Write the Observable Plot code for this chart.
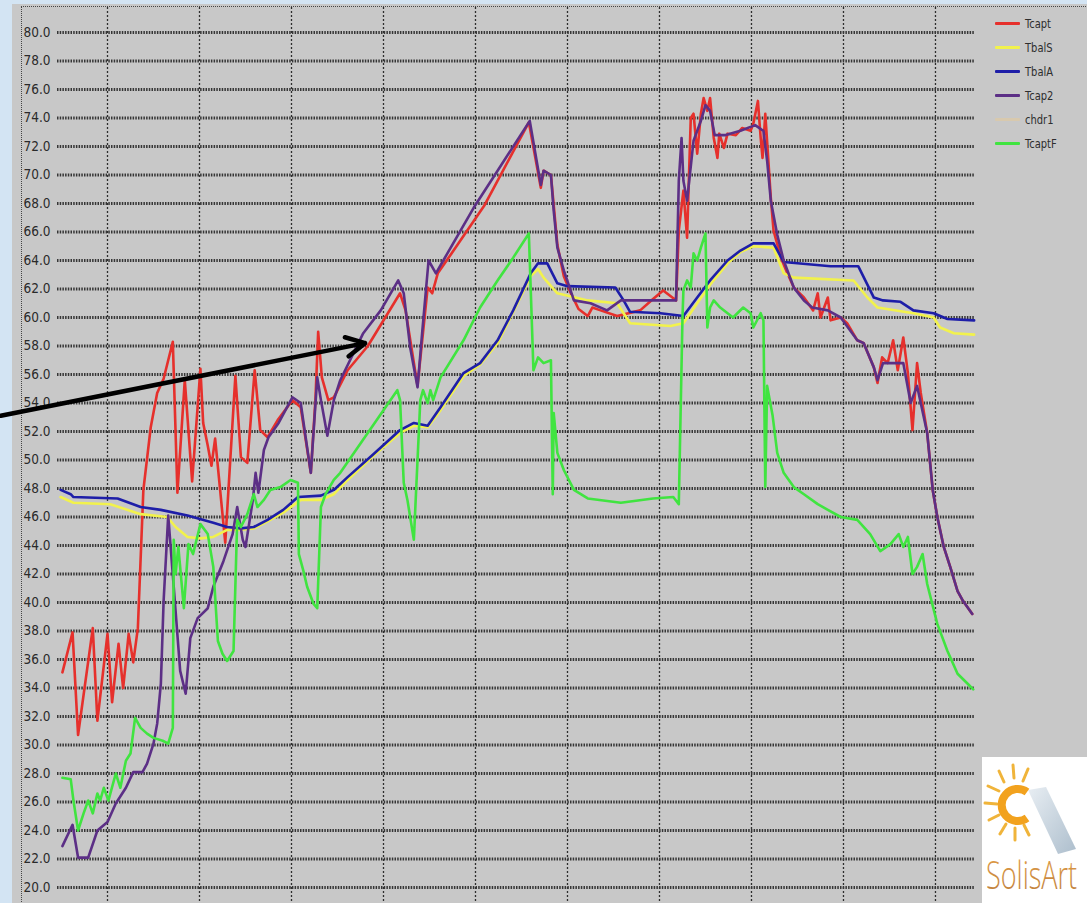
<!DOCTYPE html>
<html>
<head>
<meta charset="utf-8">
<script src="https://cdn.jsdelivr.net/npm/d3@7"></script>
<script src="https://cdn.jsdelivr.net/npm/@observablehq/plot@0.6"></script>
<style>
  html, body { margin: 0; padding: 0; width: 1087px; height: 903px; overflow: hidden; background: #d3e4f3; }
  #panel { position: absolute; left: 12px; top: 4px; width: 1075px; height: 899px; background: #c8c8c8; }
  #frame { position: absolute; left: 21px; top: 6px; width: 1066px; height: 897px;
           border-left: 1.5px dotted #444; border-top: 1.5px dotted #444; }
  #chart { position: absolute; left: 22px; top: 7px; }
  #legend { position: absolute; left: 995px; top: 11px; font-family: "Liberation Sans Narrow", "DejaVu Sans Condensed", Arial, sans-serif;
            font-size: 13px; color: #2e2e2e; }
  #legend .row { height: 24px; display: flex; align-items: center; }
  #legend .sw { width: 25px; height: 3px; margin-right: 5px; border-radius: 1px; }
  #legend span { display: inline-block; transform: scaleX(0.85); transform-origin: left center; }
  #logo { position: absolute; left: 982px; top: 757px; width: 105px; height: 146px; background: #fff; }
</style>
</head>
<body>
<div id="panel"></div>
<div id="frame"></div>
<div id="chart"></div>
<div id="legend"></div>
<div id="logo">
  <svg width="105" height="146" viewBox="0 0 105 146">
    <defs>
      <linearGradient id="pv" x1="0" y1="0" x2="1" y2="1">
        <stop offset="0" stop-color="#e4ebf1"/>
        <stop offset="1" stop-color="#9fb3c4"/>
      </linearGradient>
      <linearGradient id="tx" x1="0" y1="0" x2="0" y2="1">
        <stop offset="0" stop-color="#e6a24a"/>
        <stop offset="1" stop-color="#b97a3a"/>
      </linearGradient>
    </defs>
    <polygon points="46,33 64,30 94,92 76,97" fill="url(#pv)" opacity="0.85"/>
    <g stroke="#f0b43a" stroke-width="3" stroke-linecap="round">
      <line x1="31" y1="8" x2="32" y2="21"/>
      <line x1="17" y1="14" x2="22" y2="25"/>
      <line x1="46" y1="12" x2="41" y2="24"/>
      <line x1="6" y1="29" x2="17" y2="34"/>
      <line x1="3" y1="46" x2="15" y2="47"/>
      <line x1="7" y1="63" x2="17" y2="58"/>
      <line x1="18" y1="77" x2="24" y2="67"/>
      <line x1="33" y1="83" x2="33" y2="71"/>
      <line x1="47" y1="78" x2="42" y2="68"/>
    </g>
    <path d="M45,35 A16,16 0 1 0 45,61" fill="none" stroke="#f2a21e" stroke-width="8"/>
    <text x="4" y="94" transform="scale(1,1.4)"
          font-family="'Open Sans', Lato, sans-serif" font-weight="300" font-size="27" fill="url(#tx)">SolisArt</text>
  </svg>
</div>
<script>
// ---- data (x: hour-grid units, vertical grid lines at 1..10; y: temperature °C) ----
const seriesNames = ["Tcapt", "TbalS", "TbalA", "Tcap2", "chdr1", "TcaptF"];
const seriesColors = ["#e6302c", "#f2f24c", "#1e1ea8", "#5c2f86", "#d8c9ae", "#40e440"];
const yTicks = [20,22,24,26,28,30,32,34,36,38,40,42,44,46,48,50,52,54,56,58,60,62,64,66,68,70,72,74,76,78,80];
const xGrid = [1,2,3,4,5,6,7,8,9,10];

const tcapt = [[0.51,35.1],[0.62,37.9],[0.68,30.7],[0.84,38.2],[0.89,31.7],[1.00,37.8],[1.05,33.0],[1.12,37.1],[1.17,34.0],[1.23,37.8],[1.28,35.8],[1.33,38.2],[1.39,47.9],[1.47,52.3],[1.54,54.7],[1.61,55.7],[1.71,58.3],[1.76,47.7],[1.84,55.6],[1.92,48.5],[2.01,56.4],[2.04,52.6],[2.09,51.0],[2.13,49.6],[2.17,51.5],[2.28,44.2],[2.39,55.9],[2.45,50.2],[2.52,49.8],[2.60,56.3],[2.66,52.1],[2.74,51.6],[2.85,52.8],[3.01,54.2],[3.10,53.7],[3.21,49.1],[3.26,54.2],[3.29,59.0],[3.33,55.8],[3.40,54.2],[3.46,54.4],[3.61,56.3],[3.83,58.0],[4.18,61.7],[4.24,60.5],[4.37,55.2],[4.48,62.1],[4.53,61.7],[4.59,63.1],[4.73,64.4],[5.10,67.9],[5.58,73.7],[5.71,69.1],[5.74,70.3],[5.82,70.0],[5.85,67.9],[5.89,65.1],[5.96,62.9],[6.03,61.8],[6.12,60.6],[6.22,60.1],[6.27,60.7],[6.36,60.5],[6.54,60.1],[6.79,60.5],[6.93,61.3],[7.04,61.9],[7.14,61.4],[7.18,61.2],[7.21,66.1],[7.26,68.9],[7.30,65.6],[7.34,74.0],[7.37,74.3],[7.41,71.5],[7.45,74.3],[7.48,75.4],[7.52,74.5],[7.55,75.4],[7.59,72.6],[7.63,71.2],[7.65,72.9],[7.70,71.9],[7.74,72.9],[7.83,72.8],[7.90,73.3],[7.99,73.1],[8.02,73.6],[8.07,75.2],[8.10,72.6],[8.12,71.2],[8.15,74.3],[8.21,68.4],[8.24,66.1],[8.32,64.2],[8.39,63.1],[8.46,62.1],[8.57,61.4],[8.67,60.5],[8.72,61.7],[8.75,60.0],[8.83,61.4],[8.86,59.8],[8.97,60.0],[9.04,59.6],[9.15,58.4],[9.22,58.2],[9.33,56.5],[9.37,55.4],[9.42,57.2],[9.48,56.8],[9.54,58.4],[9.59,56.3],[9.65,58.6],[9.70,56.1],[9.75,52.1],[9.80,56.8],[9.84,54.7],[9.91,51.9],[9.97,47.9],[10.02,46.0],[10.09,43.9],[10.16,42.5],[10.24,40.8],[10.30,40.1],[10.40,39.2]];

const tbalS = [[0.49,47.4],[0.63,47.0],[1.03,46.9],[1.36,46.2],[1.65,46.0],[1.74,45.3],[1.87,44.6],[2.01,44.5],[2.15,44.6],[2.30,45.1],[2.45,45.1],[2.59,45.2],[2.74,45.7],[2.91,46.3],[3.10,47.2],[3.32,47.2],[3.46,47.6],[3.61,48.6],[3.89,50.3],[4.18,51.9],[4.33,52.4],[4.48,52.3],[4.62,53.5],[4.87,55.9],[5.05,56.7],[5.24,58.2],[5.41,60.4],[5.60,62.9],[5.68,63.4],[5.74,62.8],[5.89,61.7],[6.22,61.2],[6.54,61.0],[6.61,60.3],[6.68,59.6],[7.12,59.4],[7.26,59.6],[7.41,61.0],[7.55,62.3],[7.74,63.8],[7.88,64.6],[8.02,65.0],[8.24,64.9],[8.35,63.1],[8.46,62.8],[9.11,62.6],[9.26,61.4],[9.37,60.7],[9.76,60.3],[9.98,60.0],[10.05,59.3],[10.20,58.9],[10.42,58.8]];

const tbalA = [[0.49,47.9],[0.60,47.6],[0.63,47.4],[1.11,47.3],[1.36,46.7],[1.58,46.5],[1.87,46.1],[2.15,45.6],[2.30,45.3],[2.45,45.2],[2.59,45.3],[2.74,45.8],[2.91,46.5],[3.07,47.4],[3.32,47.5],[3.46,47.9],[3.61,48.8],[3.89,50.4],[4.18,52.1],[4.33,52.6],[4.48,52.4],[4.62,53.7],[4.87,56.1],[5.05,56.8],[5.24,58.4],[5.41,60.5],[5.60,63.1],[5.68,63.8],[5.78,63.8],[5.89,62.4],[6.00,62.2],[6.52,62.1],[6.61,61.2],[6.68,60.4],[7.01,60.3],[7.26,60.1],[7.41,61.4],[7.55,62.6],[7.74,64.0],[7.88,64.7],[8.02,65.2],[8.24,65.2],[8.35,63.9],[8.86,63.6],[9.16,63.6],[9.33,61.4],[9.43,61.2],[9.62,61.1],[9.76,60.5],[9.98,60.3],[10.13,59.9],[10.42,59.8]];

const tcap2 = [[0.51,22.9],[0.62,24.4],[0.68,22.1],[0.79,22.1],[0.89,24.0],[1.00,24.6],[1.09,25.9],[1.20,27.0],[1.28,28.1],[1.38,28.1],[1.43,28.7],[1.50,30.1],[1.54,31.5],[1.58,34.3],[1.61,40.1],[1.66,46.1],[1.72,41.1],[1.79,35.2],[1.85,33.6],[1.90,37.5],[1.98,38.9],[2.09,39.6],[2.15,41.1],[2.26,42.9],[2.36,44.8],[2.41,46.7],[2.47,44.4],[2.50,43.9],[2.58,47.2],[2.61,49.1],[2.64,47.7],[2.70,50.7],[2.75,51.6],[2.86,52.6],[3.01,54.4],[3.10,54.0],[3.21,49.1],[3.28,55.8],[3.32,54.2],[3.39,51.7],[3.46,54.2],[3.53,55.6],[3.78,58.9],[3.97,60.5],[4.16,62.6],[4.22,61.7],[4.29,57.9],[4.37,55.1],[4.42,58.9],[4.49,64.0],[4.57,63.1],[4.65,64.0],[4.98,67.7],[5.24,70.3],[5.59,73.8],[5.71,69.3],[5.74,70.3],[5.82,70.0],[5.85,67.5],[5.89,64.9],[5.96,63.3],[6.07,61.2],[6.25,61.0],[6.43,60.5],[6.58,61.2],[7.15,61.2],[7.18,61.2],[7.21,69.6],[7.24,72.6],[7.26,69.6],[7.30,68.2],[7.37,72.4],[7.45,73.8],[7.50,74.9],[7.55,74.5],[7.60,72.8],[7.72,72.8],[7.88,73.1],[8.04,73.5],[8.13,73.1],[8.17,71.0],[8.21,68.2],[8.28,65.8],[8.35,64.0],[8.46,62.1],[8.57,61.2],[8.66,60.7],[8.83,60.5],[8.97,60.0],[9.15,58.4],[9.22,58.2],[9.33,56.5],[9.37,55.6],[9.43,56.8],[9.65,56.8],[9.73,54.0],[9.80,55.2],[9.91,51.9],[9.97,47.9],[10.02,46.0],[10.09,43.9],[10.16,42.5],[10.24,40.8],[10.30,40.1],[10.40,39.2]];

const tcaptF = [[0.51,27.7],[0.60,27.6],[0.63,26.1],[0.68,24.0],[0.74,25.2],[0.79,26.1],[0.84,25.2],[0.89,26.6],[0.92,26.1],[0.96,27.0],[1.01,26.1],[1.09,28.0],[1.14,27.0],[1.20,28.9],[1.25,29.4],[1.30,31.9],[1.36,31.2],[1.43,30.8],[1.50,30.5],[1.60,30.3],[1.66,30.1],[1.71,31.2],[1.72,44.4],[1.74,42.0],[1.77,43.9],[1.83,39.6],[1.88,44.1],[1.93,43.4],[2.01,45.5],[2.09,44.8],[2.15,42.5],[2.20,37.3],[2.25,36.4],[2.30,35.9],[2.37,36.6],[2.41,45.8],[2.45,45.3],[2.52,46.2],[2.59,47.6],[2.63,46.7],[2.70,47.2],[2.77,47.9],[2.88,48.1],[2.99,48.6],[3.07,48.4],[3.08,43.4],[3.13,42.2],[3.17,41.1],[3.24,39.9],[3.28,39.6],[3.32,46.7],[3.37,47.6],[3.46,48.6],[3.53,49.1],[4.15,54.9],[4.18,54.2],[4.22,48.4],[4.26,47.2],[4.33,44.4],[4.40,54.2],[4.43,54.9],[4.48,54.0],[4.51,54.9],[4.54,54.2],[4.62,55.8],[4.87,58.4],[5.05,60.7],[5.24,62.6],[5.41,64.2],[5.58,65.9],[5.62,58.2],[5.63,56.3],[5.68,57.2],[5.74,56.8],[5.82,57.0],[5.84,47.6],[5.85,53.3],[5.89,50.5],[5.96,49.3],[6.07,47.9],[6.22,47.3],[6.58,47.0],[6.93,47.3],[7.15,47.4],[7.21,46.9],[7.25,60.0],[7.26,61.9],[7.30,62.6],[7.34,62.1],[7.37,64.5],[7.41,64.0],[7.45,64.9],[7.50,65.9],[7.52,59.3],[7.55,60.7],[7.59,61.2],[7.66,60.7],[7.74,60.3],[7.80,60.0],[7.91,60.7],[7.99,60.3],[8.02,59.3],[8.10,60.3],[8.13,59.8],[8.15,48.1],[8.17,55.2],[8.23,53.1],[8.28,50.5],[8.35,49.1],[8.46,48.1],[8.57,47.6],[8.72,46.9],[8.83,46.5],[8.97,46.0],[9.15,45.8],[9.29,44.8],[9.40,43.6],[9.51,44.1],[9.60,44.8],[9.65,43.9],[9.70,44.6],[9.75,42.0],[9.80,42.5],[9.86,43.4],[9.91,41.3],[10.02,38.5],[10.13,36.6],[10.24,35.0],[10.35,34.3],[10.41,33.9]];

// annotation arrow (start / end in chart units)
const arrowFrom = [-0.16, 53.1];
const arrowTo = [3.80, 58.2];

// ---- build ----
const seriesData = {Tcapt: tcapt, TbalS: tbalS, TbalA: tbalA, Tcap2: tcap2, TcaptF: tcaptF};
const drawOrder = ["Tcapt", "TbalS", "TbalA", "Tcap2", "TcaptF"];
const rows = drawOrder.flatMap(name => seriesData[name].map(([t, v]) => ({series: name, t, v})));

const font = "'Liberation Sans Narrow', 'DejaVu Sans Condensed', Arial, sans-serif";

const chart = Plot.plot({
  width: 1065,
  height: 896,
  marginLeft: 35,
  marginRight: 112,
  marginTop: 25,
  marginBottom: 16,
  x: {domain: [0.4565, 10.435], axis: null},
  y: {domain: [20, 80], axis: null},
  color: {domain: seriesNames, range: seriesColors},
  style: {background: "transparent", overflow: "visible", fontFamily: font},
  marks: [
    Plot.ruleX(xGrid, {stroke: "#2e2e2e", strokeWidth: 1.3, strokeDasharray: "2,2", insetTop: -25, insetBottom: -16}),
    Plot.ruleY(yTicks, {stroke: "#363636", strokeWidth: 2.8, strokeDasharray: "1.5,1.2"}),
    Plot.axisY(yTicks, {tickSize: 0, tickPadding: 7, tickFormat: d => d.toFixed(1), fontSize: 13.5, fill: "#2a2a2a"}),
    Plot.line(rows, {x: "t", y: "v", z: "series", stroke: "series", strokeWidth: 2.6, strokeLinejoin: "round"}),
    Plot.arrow([{x1: arrowFrom[0], y1: arrowFrom[1], x2: arrowTo[0], y2: arrowTo[1]}],
      {x1: "x1", y1: "y1", x2: "x2", y2: "y2", stroke: "#000", strokeWidth: 4.5, headLength: 7, headAngle: 55})
  ]
});
document.getElementById("chart").appendChild(chart);

// legend
const legend = document.getElementById("legend");
seriesNames.forEach((name, i) => {
  const row = document.createElement("div");
  row.className = "row";
  const sw = document.createElement("div");
  sw.className = "sw";
  sw.style.background = seriesColors[i];
  const lab = document.createElement("span");
  lab.textContent = name;
  row.appendChild(sw);
  row.appendChild(lab);
  legend.appendChild(row);
});
</script>
</body>
</html>
